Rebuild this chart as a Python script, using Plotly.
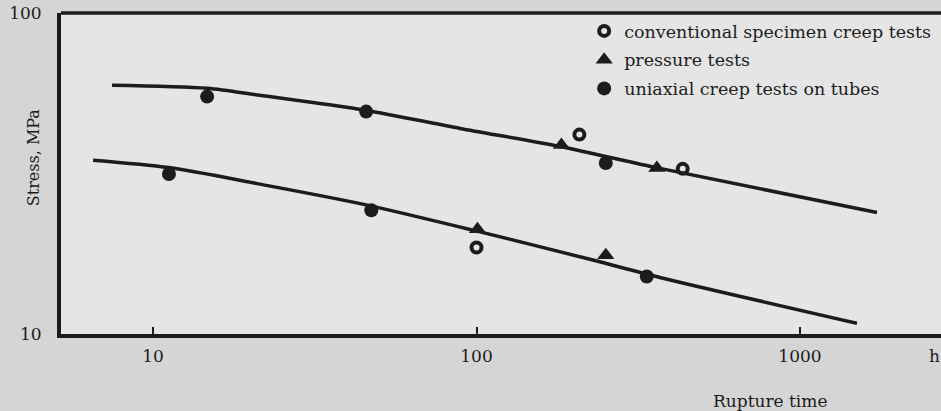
import plotly.graph_objects as go

# ---- data ----
# fitted curves
upper_curve_x = [7.47, 14.7, 21.4, 45.2, 88.9, 181, 369, 1730]
upper_curve_y = [59.6, 58.3, 55.4, 49.8, 43.7, 38.4, 32.8, 23.9]
lower_curve_x = [6.53, 11.2, 21.4, 45.2, 102.6, 229, 369, 1500]
lower_curve_y = [34.8, 33.0, 29.3, 25.3, 20.8, 17.0, 15.0, 10.8]

# conventional specimen creep tests (open circles)
conv_x = [208, 434, 100]
conv_y = [41.8, 32.7, 18.6]
# pressure tests (triangles)
press_x = [183, 361, 100.7, 251]
press_y = [38.8, 32.9, 21.2, 17.6]
# uniaxial creep tests on tubes (filled circles)
uni_x = [14.7, 45.6, 251, 11.2, 47.3, 336]
uni_y = [54.9, 49.3, 34.1, 31.5, 24.3, 15.1]

x_tick_vals = [10, 100, 1000]
x_tick_text = ["10", "100", "1000"]
y_tick_vals = [10, 100]
y_tick_text = ["10", "100"]

INK = "#1c1c1c"
FONT = "DejaVu Serif"
PAPER = "#d5d5d5"

fig = go.Figure()
fig.add_trace(go.Scatter(x=upper_curve_x, y=upper_curve_y, mode="lines",
                         line=dict(color=INK, width=3.5, shape="spline", smoothing=0.8),
                         showlegend=False, hoverinfo="skip"))
fig.add_trace(go.Scatter(x=lower_curve_x, y=lower_curve_y, mode="lines",
                         line=dict(color=INK, width=3.5, shape="spline", smoothing=0.8),
                         showlegend=False, hoverinfo="skip"))
fig.add_trace(go.Scatter(x=conv_x, y=conv_y, mode="markers", name="conventional specimen creep tests",
                         marker=dict(symbol="circle-open", size=10, color=INK, line=dict(width=4, color=INK)),
                         legendgroup="a"))
fig.add_trace(go.Scatter(x=press_x, y=press_y, mode="markers", name="pressure tests",
                         marker=dict(symbol="triangle-up", size=15, color=INK),
                         legendgroup="b"))
fig.add_trace(go.Scatter(x=uni_x, y=uni_y, mode="markers", name="uniaxial creep tests on tubes",
                         marker=dict(symbol="circle", size=14, color=INK),
                         legendgroup="c"))

fig.update_layout(
    width=941, height=411,
    margin=dict(l=61, r=0, t=13, b=77, autoexpand=False),
    paper_bgcolor=PAPER,
    plot_bgcolor="#e5e5e5",
    font=dict(family=FONT, size=17, color=INK),
    showlegend=True,
    legend=dict(x=0.5945, y=1.0, xanchor="left", yanchor="top",
                bgcolor="rgba(0,0,0,0)", font=dict(family=FONT, size=17.5, color=INK),
                tracegroupgap=3, itemsizing="trace"),
    xaxis=dict(type="log", range=[0.7156, 3.4359], showgrid=False, zeroline=False,
               showline=True, linecolor=INK, linewidth=4, mirror=False,
               tickmode="array", tickvals=x_tick_vals, ticktext=x_tick_text,
               ticks="inside", ticklen=7, tickwidth=2, tickcolor=INK,
               ticklabelstandoff=4, tickfont=dict(family=FONT, size=17, color=INK)),
    yaxis=dict(type="log", range=[1, 2], showgrid=False, zeroline=False,
               showline=True, linecolor=INK, linewidth=4, mirror=False,
               tickmode="array", tickvals=y_tick_vals, ticktext=y_tick_text,
               ticks="", ticklabelstandoff=12, tickfont=dict(family=FONT, size=17, color=INK)),
    shapes=[dict(type="line", xref="paper", yref="paper", x0=0, x1=1, y0=1, y1=1,
                 line=dict(color=INK, width=3.5))],
    annotations=[
        dict(text="Stress, MPa", xref="paper", yref="paper", x=-0.031, y=0.55,
             textangle=-90, showarrow=False, font=dict(family=FONT, size=16, color=INK),
             xanchor="center", yanchor="middle"),
        dict(text="Rupture time", xref="paper", yref="paper", x=0.806, y=-0.21,
             showarrow=False, font=dict(family=FONT, size=17, color=INK),
             xanchor="center", yanchor="middle"),
        dict(text="h", xref="paper", yref="paper", x=0.993, y=-0.07,
             showarrow=False, font=dict(family=FONT, size=17, color=INK),
             xanchor="center", yanchor="middle"),
    ],
)

fig.write_html(
    "out.html",
    config={"displayModeBar": False},
    post_script=f"document.body.style.margin='0';document.body.style.background='{PAPER}';",
)
